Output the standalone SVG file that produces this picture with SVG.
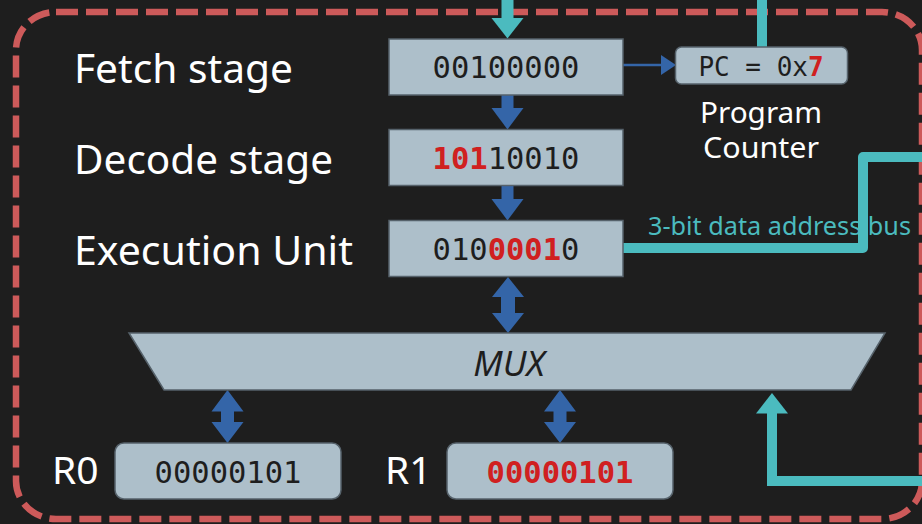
<svg xmlns="http://www.w3.org/2000/svg" width="922" height="524" viewBox="0 0 922 524">
  <style>
    .label { font-family: "Noto Sans", "Open Sans", sans-serif; fill: #ffffff; }
    .stage { font-size: 40px; }
    .box { fill: #adbfca; stroke: #56626b; stroke-width: 1.5; }
    .mono { font-family: "DejaVu Sans Mono", "Liberation Mono", monospace; fill: #1e1e1e; text-anchor: middle; }
    .hot { fill: #d02020; font-weight: bold; }
    .blue { fill: #3465a8; }
    .teal { fill: #4bbbbf; }
    .bus { fill: none; stroke: #4bbbbf; stroke-width: 10; }
  </style>

  <rect width="922" height="524" fill="#1e1e1e"/>

  <!-- dashed enclosure -->
  <rect id="cpu-boundary" x="16" y="12" width="906" height="507" rx="40" ry="38"
        fill="none" stroke="#cd5a5a" stroke-width="6.5" stroke-dasharray="22 8"/>

  <!-- stage captions -->
  <g id="stage-labels" class="label stage">
    <text x="74" y="83" textLength="219" lengthAdjust="spacingAndGlyphs">Fetch stage</text>
    <text x="74" y="174" textLength="259" lengthAdjust="spacingAndGlyphs">Decode stage</text>
    <text x="74" y="265" textLength="279" lengthAdjust="spacingAndGlyphs">Execution Unit</text>
  </g>

  <!-- bus caption sits beneath the bus line -->
  <text id="bus-label" x="648" y="235" font-family="Noto Sans, Open Sans, sans-serif" font-size="25" fill="#4bbbbf" textLength="263" lengthAdjust="spacingAndGlyphs">3-bit data address bus</text>

  <g id="connectors">
    <!-- instruction input from above -->
    <rect class="teal" x="501.5" y="0" width="12" height="19"/>
    <polygon class="teal" points="491.5,18 523.5,18 507.5,38.5"/>
    <!-- program counter line -->
    <rect class="teal" x="757" y="0" width="10" height="48"/>
    <!-- fetch to PC -->
    <line x1="623" y1="65" x2="663" y2="65" stroke="#3465a8" stroke-width="2.5"/>
    <polygon class="blue" points="661,55 676,65 661,75"/>
    <!-- fetch to decode -->
    <rect class="blue" x="501.5" y="95" width="12" height="14"/>
    <polygon class="blue" points="491.5,108 523.5,108 507.5,129.5"/>
    <!-- decode to execute -->
    <rect class="blue" x="501.5" y="185" width="12" height="15"/>
    <polygon class="blue" points="491.5,199 523.5,199 507.5,220.5"/>
    <!-- execute <-> mux -->
    <polygon class="blue" points="508,277 524,297 515,297 515,313 524,313 508,333 492,313 501,313 501,297 492,297"/>
    <!-- R0 <-> mux -->
    <polygon class="blue" points="227.5,390 243.5,411.5 234,411.5 234,422 243.5,422 227.5,443 211.5,422 221,422 221,411.5 211.5,411.5"/>
    <!-- R1 <-> mux -->
    <polygon class="blue" points="560,390 576,411.5 566.5,411.5 566.5,422 576,422 560,443 544,422 553.5,422 553.5,411.5 544,411.5"/>
    <!-- data address bus -->
    <path class="bus" d="M623,248 H863 V157 H922" stroke-linejoin="round"/>
    <!-- feedback into mux select -->
    <path class="bus" d="M922,481 H772 V412" stroke-width="10.7" stroke-linejoin="miter"/>
    <polygon class="teal" points="756,413.5 788,413.5 772,393"/>
  </g>

  <g id="fetch">
    <rect class="box" x="389" y="39" width="234" height="56"/>
    <text class="mono" x="506" y="78" font-size="30.5">00100000</text>
  </g>

  <g id="decode">
    <rect class="box" x="389" y="129.5" width="234" height="56"/>
    <text class="mono" x="506" y="169" font-size="30.5"><tspan class="hot">101</tspan>10010</text>
  </g>

  <g id="execute">
    <rect class="box" x="389" y="220.5" width="234" height="56"/>
    <text class="mono" x="506" y="260" font-size="30.5">010<tspan class="hot">0001</tspan>0</text>
  </g>

  <g id="pc">
    <rect class="box" x="675.5" y="47" width="172" height="37" rx="6"/>
    <text class="mono" x="761" y="76" font-size="26">PC = 0x<tspan class="hot">7</tspan></text>
    <text class="label" x="761" y="123" font-size="29" text-anchor="middle" textLength="122" lengthAdjust="spacingAndGlyphs">Program</text>
    <text class="label" x="761" y="158" font-size="29" text-anchor="middle" textLength="116" lengthAdjust="spacingAndGlyphs">Counter</text>
  </g>

  <g id="mux">
    <polygon class="box" points="129,333 885,333 851,390 164,390"/>
    <text x="509" y="376" font-family="Noto Sans, Open Sans, sans-serif" font-size="35" font-style="italic" fill="#1e1e1e" text-anchor="middle">MUX</text>
  </g>

  <g id="r0">
    <text class="label" x="52" y="484" font-size="39">R0</text>
    <rect class="box" x="115" y="443" width="226" height="56" rx="9"/>
    <text class="mono" x="228" y="483" font-size="30.5">00000101</text>
  </g>

  <g id="r1">
    <text class="label" x="385" y="484" font-size="39">R1</text>
    <rect class="box" x="447" y="443" width="226" height="56" rx="9"/>
    <text class="mono hot" x="560" y="483" font-size="30.5">00000101</text>
  </g>
</svg>
